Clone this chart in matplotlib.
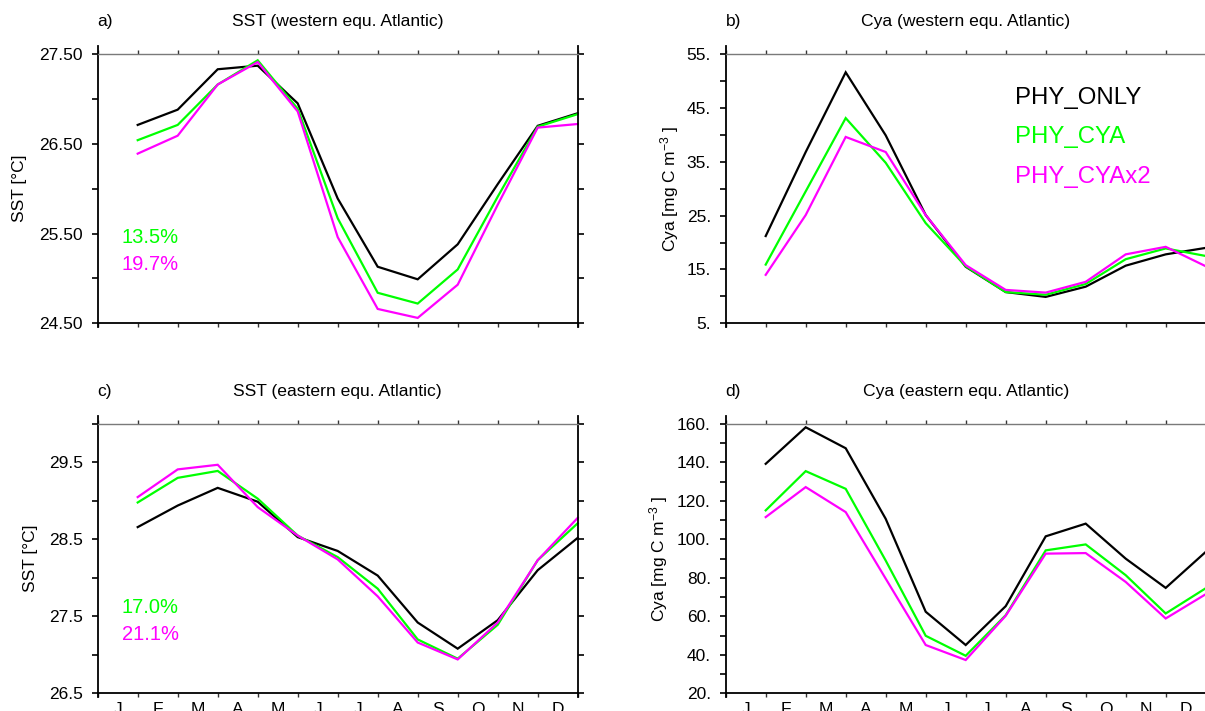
import matplotlib
matplotlib.use("Agg")
import matplotlib.pyplot as plt
from matplotlib.ticker import FixedLocator, FixedFormatter

plt.rcParams['font.family'] = ['Liberation Sans', 'DejaVu Sans']
plt.rcParams['mathtext.default'] = 'regular'

# ---- data ----
months = ['J', 'F', 'M', 'A', 'M', 'J', 'J', 'A', 'S', 'O', 'N', 'D']
runs = ['PHY_ONLY', 'PHY_CYA', 'PHY_CYAx2']

sst_w_only = [26.71, 26.88, 27.33, 27.37, 26.95, 25.89, 25.13, 24.99, 25.38, 26.05, 26.70, 26.84]
sst_w_cya = [26.54, 26.71, 27.16, 27.43, 26.89, 25.67, 24.84, 24.72, 25.10, 25.91, 26.69, 26.83]
sst_w_cya2 = [26.39, 26.59, 27.16, 27.41, 26.86, 25.46, 24.66, 24.56, 24.93, 25.82, 26.68, 26.72]

cya_w_only = [21.2, 36.8, 51.6, 39.9, 25.1, 15.5, 10.8, 9.9, 11.8, 15.7, 17.8, 19.0]
cya_w_cya = [15.9, 29.5, 43.1, 34.8, 23.6, 15.6, 10.8, 10.3, 12.3, 16.9, 18.9, 17.5]
cya_w_cya2 = [14.0, 25.1, 39.6, 36.8, 25.1, 15.8, 11.2, 10.7, 12.7, 17.8, 19.2, 15.6]

sst_e_only = [28.66, 28.94, 29.17, 28.99, 28.53, 28.35, 28.03, 27.42, 27.08, 27.45, 28.10, 28.52]
sst_e_cya = [28.98, 29.30, 29.39, 29.03, 28.55, 28.27, 27.86, 27.20, 26.95, 27.39, 28.23, 28.71]
sst_e_cya2 = [29.05, 29.41, 29.47, 28.92, 28.55, 28.24, 27.76, 27.16, 26.94, 27.42, 28.23, 28.78]

cya_e_only = [139.3, 158.3, 147.4, 110.7, 62.4, 45.1, 65.3, 101.6, 108.2, 90.0, 74.8, 93.5]
cya_e_cya = [115.1, 135.5, 126.3, 89.0, 49.9, 39.5, 60.6, 94.3, 97.4, 81.4, 61.5, 74.6]
cya_e_cya2 = [111.6, 127.2, 114.2, 79.6, 45.1, 37.3, 60.3, 92.6, 92.9, 77.9, 58.9, 71.5]

pct_w = ['13.5%', '19.7%']
pct_e = ['17.0%', '21.1%']

# y axes: limits, major ticks + labels, minor ticks
sst_w_ticks = [24.5, 25.5, 26.5, 27.5]
sst_w_labels = ['24.50', '25.50', '26.50', '27.50']
sst_w_minor = [25.0, 26.0, 27.0]

cya_w_ticks = [5, 15, 25, 35, 45, 55]
cya_w_labels = ['5.', '15.', '25.', '35.', '45.', '55.']
cya_w_minor = [10, 20, 30, 40, 50]

sst_e_ticks = [26.5, 27.5, 28.5, 29.5]
sst_e_labels = ['26.5', '27.5', '28.5', '29.5']
sst_e_minor = [27.0, 28.0, 29.0, 30.0]

cya_e_ticks = [20, 40, 60, 80, 100, 120, 140, 160]
cya_e_labels = ['20.', '40.', '60.', '80.', '100.', '120.', '140.', '160.']
cya_e_minor = [30, 50, 70, 90, 110, 130, 150]

colors = ['black', '#00ff00', '#ff00ff']

W, H = 1205, 711
fig = plt.figure(figsize=(W / 100, H / 100), dpi=100)


def px_axes(left, top, right, bottom):
    return fig.add_axes([left / W, 1 - bottom / H, (right - left) / W, (bottom - top) / H])


def style_panel(ax, series, ylim, ticks, labels, minor, letter, title, ylabel,
                ylabel_x, show_months):
    x = range(1, 13)
    for vals, c in zip(series, colors):
        ax.plot(x, vals, color=c, lw=1.6, clip_on=False, solid_joinstyle='miter')
    ax.set_xlim(0, 12)
    ax.set_ylim(*ylim)

    ax.xaxis.set_major_locator(FixedLocator(range(13)))
    ax.xaxis.set_major_formatter(FixedFormatter([''] * 13))
    ax.xaxis.set_minor_locator(FixedLocator([i + 0.5 for i in range(12)]))
    ax.xaxis.set_minor_formatter(FixedFormatter(months if show_months else [''] * 12))
    ax.tick_params(axis='x', which='major', direction='out', length=3, width=1,
                   top=True, bottom=True, color='#333333')
    ax.tick_params(axis='x', which='minor', length=0, pad=6.0, labelsize=12.5)

    ax.yaxis.set_major_locator(FixedLocator(ticks))
    ax.yaxis.set_major_formatter(FixedFormatter(labels))
    ax.yaxis.set_minor_locator(FixedLocator(minor))
    ax.tick_params(axis='y', which='both', direction='out', length=4.3, width=1.2,
                   left=True, right=True, pad=6.3, labelsize=12.5)

    span = ylim[1] - ylim[0]
    for s in ['left', 'right']:
        ax.spines[s].set_linewidth(1.3)
        ax.spines[s].set_bounds(ylim[0] - span * 4 / 269, ylim[1] + span * 8 / 269)
    ax.spines['bottom'].set_linewidth(1.3)
    ax.spines['top'].set_color('#7a7a7a')
    ax.spines['top'].set_linewidth(1.0)

    ax.text(0.0, 1.12, letter, transform=ax.transAxes, ha='left', va='center', fontsize=12.5)
    ax.text(0.5, 1.12, title, transform=ax.transAxes, ha='center', va='center', fontsize=12.6)
    ax.text(ylabel_x, 0.5, ylabel, transform=ax.transAxes, rotation=90,
            ha='center', va='center', fontsize=12.5)


ax_a = px_axes(97.7, 54, 577.7, 323.3)
ax_b = px_axes(725.7, 54, 1205.7, 323.3)
ax_c = px_axes(97.7, 424, 577.7, 693.3)
ax_d = px_axes(725.7, 424, 1205.7, 693.3)

cya_label = 'Cya [mg C m$^{-3}$ ]'

style_panel(ax_a, [sst_w_only, sst_w_cya, sst_w_cya2], (24.5, 27.5),
            sst_w_ticks, sst_w_labels, sst_w_minor, 'a)',
            'SST (western equ. Atlantic)', 'SST [°C]', -0.162, False)
style_panel(ax_b, [cya_w_only, cya_w_cya, cya_w_cya2], (5, 55),
            cya_w_ticks, cya_w_labels, cya_w_minor, 'b)',
            'Cya (western equ. Atlantic)', cya_label, -0.117, False)
style_panel(ax_c, [sst_e_only, sst_e_cya, sst_e_cya2], (26.5, 30.0),
            sst_e_ticks, sst_e_labels, sst_e_minor, 'c)',
            'SST (eastern equ. Atlantic)', 'SST [°C]', -0.14, True)
style_panel(ax_d, [cya_e_only, cya_e_cya, cya_e_cya2], (20, 160),
            cya_e_ticks, cya_e_labels, cya_e_minor, 'd)',
            'Cya (eastern equ. Atlantic)', cya_label, -0.139, True)

# percentage annotations
for ax, pcts in [(ax_a, pct_w), (ax_c, pct_e)]:
    for txt, c, yy in zip(pcts, colors[1:], [0.317, 0.2165]):
        ax.text(0.0506, yy, txt, color=c, transform=ax.transAxes,
                ha='left', va='center', fontsize=14.5)

# legend as coloured text
for name, c, yy in zip(runs, colors, [0.8366, 0.6918, 0.5433]):
    ax_b.text(0.603, yy, name, color=c, transform=ax_b.transAxes,
              ha='left', va='center', fontsize=17.3)

fig.savefig('out.png', dpi=100)
